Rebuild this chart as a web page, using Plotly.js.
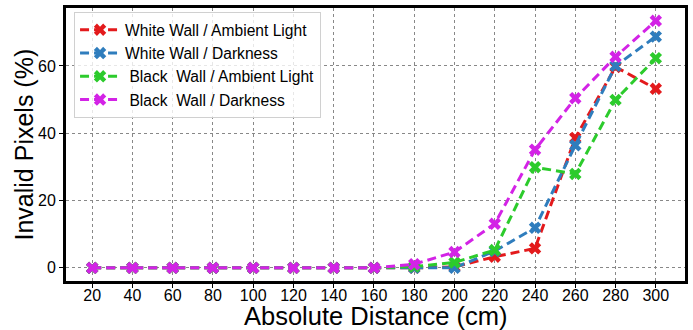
<!DOCTYPE html>
<html>
<head>
<meta charset="utf-8">
<script src="https://cdn.plot.ly/plotly-3.0.1.min.js"></script>
<style>html,body{margin:0;padding:0;background:#fff;}#chart{width:693px;height:330px;}</style>
</head>
<body>
<div id="chart"></div>
<script>
var distances = [20, 40, 60, 80, 100, 120, 140, 160, 180, 200, 220, 240, 260, 280, 300];
var whiteAmbient = [0, 0, 0, 0, 0, 0, 0, 0, 0, 0.3, 3.3, 5.8, 38.6, 59.7, 53.2];
var whiteDark    = [0, 0, 0, 0, 0, 0, 0, 0, 0, 0, 5.0, 11.9, 36.4, 60.0, 68.7];
var blackAmbient = [0, 0, 0, 0, 0, 0, 0, 0, 0.4, 1.6, 5.3, 29.9, 27.9, 49.9, 62.3];
var blackDark    = [0, 0, 0, 0, 0, 0, 0, 0, 1.1, 4.7, 13.1, 35.1, 50.4, 62.7, 73.4];
var yTicks = [0, 20, 40, 60];
var seriesNames = [
  'White Wall / Ambient Light',
  'White Wall / Darkness',
  '\u00a0Black\u00a0 Wall / Ambient Light',
  '\u00a0Black\u00a0 Wall / Darkness'
];
var xTitle = 'Absolute Distance (cm)';
var yTitle = 'Invalid Pixels (%)';
var seriesData = [whiteAmbient, whiteDark, blackAmbient, blackDark];
var colors = ['#e31a1c', '#2f7dbd', '#2ccb2c', '#d323e6'];

var traces = seriesData.map(function (vals, i) {
  return {
    x: distances, y: vals, name: seriesNames[i],
    type: 'scatter', mode: 'lines+markers',
    line: {color: colors[i], width: 3, dash: '9px,5px'},
    marker: {symbol: 'x', size: 11, color: colors[i]}
  };
});

var layout = {
  width: 693, height: 330,
  margin: {l: 66, r: 8, t: 8, b: 49},
  paper_bgcolor: '#fff', plot_bgcolor: '#fff',
  font: {family: 'Liberation Sans, Arial, sans-serif', color: '#000'},
  showlegend: true,
  legend: {
    x: 0.013, y: 0.985, xanchor: 'left', yanchor: 'top',
    bgcolor: 'rgba(255,255,255,0.8)', bordercolor: '#d0d0d0', borderwidth: 1,
    font: {size: 15.6, family: 'Liberation Sans, Arial, sans-serif'},
    itemwidth: 40,
    tracegroupgap: 0
  },
  xaxis: {
    range: [7, 314.5], tickvals: distances, ticktext: distances.map(String),
    tickfont: {size: 16}, ticks: 'outside', ticklen: 4, tickcolor: '#000',
    ticklabelstandoff: -6,
    showgrid: true, gridcolor: '#888', griddash: 'dot', gridwidth: 1,
    showline: true, linecolor: '#000', linewidth: 3, mirror: true,
    zeroline: false
  },
  yaxis: {
    range: [-3.9, 77.2], tickvals: yTicks,
    tickfont: {size: 16}, ticks: 'outside', ticklen: 4, tickcolor: '#000',
    showgrid: true, gridcolor: '#888', griddash: 'dot', gridwidth: 1,
    showline: true, linecolor: '#000', linewidth: 3, mirror: true,
    zeroline: false
  },
  annotations: [
    {text: xTitle, xref: 'paper', yref: 'paper', x: 0.5, y: 0,
     xanchor: 'center', yanchor: 'middle', yshift: -35, showarrow: false,
     font: {size: 25.5}},
    {text: yTitle, xref: 'paper', yref: 'paper', x: 0, y: 0.5,
     xanchor: 'center', yanchor: 'middle', xshift: -43, textangle: -90, showarrow: false,
     font: {size: 25}}
  ]
};

Plotly.newPlot('chart', traces, layout, {displayModeBar: false, staticPlot: true});
</script>
</body>
</html>
